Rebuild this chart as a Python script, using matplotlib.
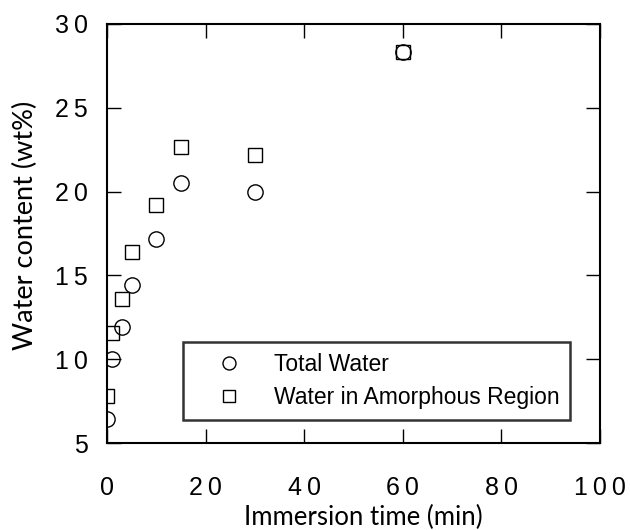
import numpy as np
import matplotlib
matplotlib.use('Agg')
import matplotlib.pyplot as plt
from matplotlib.ticker import FuncFormatter

# immersion time (min) and water content (wt%)
time_min = [0, 1, 3, 5, 10, 15, 30, 60]
total_water = [6.45, 10.0, 11.93, 14.45, 17.18, 20.51, 20.0, 28.34]
amorphous_water = [7.81, 11.58, 13.62, 16.39, 19.22, 22.67, 22.2, 28.34]

x_ticks = [0, 20, 40, 60, 80, 100]
y_ticks = [5, 10, 15, 20, 25, 30]

tick_font = ['Liberation Sans', 'DejaVu Sans']
label_font = ['Lato', 'DejaVu Sans']


def spaced(v, pos):
    # wide letter spacing like the original
    return '\u2009'.join(str(int(v)))


fig = plt.figure(figsize=(6.3, 5.3), dpi=100)
ax = fig.add_axes([0.170, 0.164, 0.782, 0.791])

ax.plot(time_min, total_water, 'o', ms=11, mfc='none', mec='black', mew=1.0,
        label='Total Water')
ax.plot(time_min, amorphous_water, 's', ms=9.5, mfc='none', mec='black', mew=1.0,
        label='Water in Amorphous Region')

ax.set_xlim(0, 100)
ax.set_ylim(5, 30)
ax.set_xticks(x_ticks)
ax.set_yticks(y_ticks)
ax.xaxis.set_major_formatter(FuncFormatter(spaced))
ax.yaxis.set_major_formatter(FuncFormatter(spaced))
ax.tick_params(direction='in', length=10, width=1.0, top=True, right=True,
               labelsize=18, labelfontfamily=tick_font)
ax.tick_params(axis='x', pad=24)
ax.tick_params(axis='y', pad=14)

for s in ax.spines.values():
    s.set_linewidth(1.5)

ax.set_xlabel('Immersion time (min)', family=label_font, fontsize=18.5)
ax.set_ylabel('Water content (wt%)', family=label_font, fontsize=19.5)
ax.xaxis.set_label_coords(0.521, -0.148)
ax.yaxis.set_label_coords(-0.140, 0.52)

leg = ax.legend(loc='lower left', bbox_to_anchor=(0.154, 0.055, 0.785, 0.19),
                mode='expand', borderaxespad=0, frameon=True, fancybox=False,
                edgecolor='black', prop={'family': tick_font, 'size': 16.5},
                handlelength=3.0, handletextpad=0.47, labelspacing=0.4,
                borderpad=0.5, markerscale=0.85)
leg.get_frame().set_linewidth(1.8)

fig.savefig('out.png', dpi=100)
